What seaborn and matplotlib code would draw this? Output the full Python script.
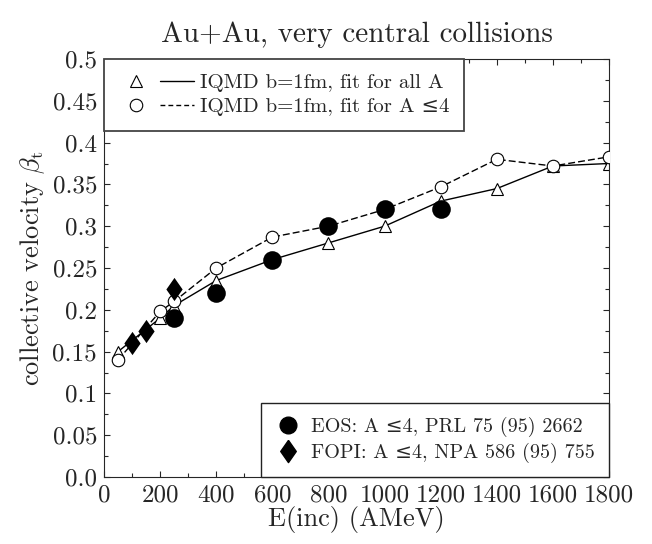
import matplotlib
matplotlib.use("Agg")
import matplotlib.pyplot as plt
import seaborn as sns
from matplotlib.lines import Line2D
from matplotlib.legend_handler import HandlerTuple
from matplotlib.ticker import MultipleLocator

# ---- data ----
iqmd_all_x = [50, 200, 250, 400, 600, 800, 1000, 1200, 1400, 1600, 1800]
iqmd_all_y = [0.15, 0.19, 0.205, 0.235, 0.26, 0.28, 0.30, 0.33, 0.345, 0.372, 0.375]
iqmd_a4_x = [50, 200, 250, 400, 600, 800, 1000, 1200, 1400, 1600, 1800]
iqmd_a4_y = [0.14, 0.198, 0.21, 0.25, 0.287, 0.30, 0.32, 0.347, 0.38, 0.372, 0.383]
eos_x = [250, 400, 600, 800, 1000, 1200]
eos_y = [0.19, 0.22, 0.26, 0.30, 0.32, 0.32]
fopi_x = [100, 150, 250]
fopi_y = [0.16, 0.175, 0.225]

xticks = [0, 200, 400, 600, 800, 1000, 1200, 1400, 1600, 1800]
xtick_labels = ["0", "200", "400", "600", "800", "1000", "1200", "1400", "1600", "1800"]
yticks = [0.0, 0.05, 0.1, 0.15, 0.2, 0.25, 0.3, 0.35, 0.4, 0.45, 0.5]
ytick_labels = ["0.0", "0.05", "0.1", "0.15", "0.2", "0.25", "0.3", "0.35", "0.4", "0.45", "0.5"]

label_all = "IQMD b=1fm, fit for all A"
label_a4 = "IQMD b=1fm, fit for A \u22644"
label_eos = "EOS: A \u22644, PRL 75 (95) 2662"
label_fopi = "FOPI: A \u22644, NPA 586 (95) 755"
title = "Au+Au, very central collisions"
xlabel = "E(inc) (AMeV)"
ylabel = r"collective velocity $\beta_\mathrm{t}$"

# ---- style ----
sns.set_style("ticks")
plt.rcParams.update({
    "font.family": ["cmr10", "DejaVu Serif"],
    "mathtext.fontset": "cm",
    "axes.formatter.use_mathtext": True,
    "axes.linewidth": 0.8,
    "xtick.direction": "in",
    "ytick.direction": "in",
    "xtick.top": True,
    "ytick.right": True,
    "axes.unicode_minus": False,
})

fig = plt.figure(figsize=(6.52, 5.44), dpi=100)
ax = fig.add_axes([104 / 652, 1 - 477 / 544, 505 / 652, 418 / 544])

sns.lineplot(x=iqmd_all_x, y=iqmd_all_y, ax=ax, color="black", lw=1.0,
             marker="^", markersize=9, markerfacecolor="white",
             markeredgecolor="black", markeredgewidth=0.8, zorder=2)
sns.lineplot(x=iqmd_a4_x, y=iqmd_a4_y, ax=ax, color="black", lw=1.0,
             linestyle=(0, (5, 2.2)),
             marker="o", markersize=9, markerfacecolor="white",
             markeredgecolor="black", markeredgewidth=0.8, zorder=3)

diamond = [(0, 1), (0.7, 0), (0, -1), (-0.7, 0), (0, 1)]
sns.scatterplot(x=eos_x, y=eos_y, ax=ax, marker="o", s=180, color="black",
                edgecolor="black", linewidth=0, zorder=5)
sns.scatterplot(x=fopi_x, y=fopi_y, ax=ax, marker=diamond, s=280, color="black",
                edgecolor="black", linewidth=0, zorder=5)

ax.set_xlim(0, 1800)
ax.set_ylim(0, 0.5)
ax.set_xticks(xticks, xtick_labels)
ax.set_yticks(yticks, ytick_labels)
ax.xaxis.set_minor_locator(MultipleLocator(100))
ax.yaxis.set_minor_locator(MultipleLocator(0.025))
ax.tick_params(which="major", length=4, width=0.8, labelsize=18, pad=5)
ax.tick_params(which="minor", length=3, width=0.8)

ax.set_xlabel(xlabel, fontsize=19, labelpad=0)
ax.set_ylabel(ylabel, fontsize=19, labelpad=4)
ax.set_title(title, fontsize=21, pad=12)

# legend 1 (upper left)
h_tri = Line2D([], [], linestyle="none", marker="^", markersize=9,
               markerfacecolor="white", markeredgecolor="black", markeredgewidth=0.8)
h_solid = Line2D([], [], color="black", lw=1.0)
h_circ = Line2D([], [], linestyle="none", marker="o", markersize=9,
                markerfacecolor="white", markeredgecolor="black", markeredgewidth=0.8)
h_dash = Line2D([], [], color="black", lw=1.0, linestyle=(0, (3.5, 2.2)))
leg1 = ax.legend([(h_tri, h_solid), (h_circ, h_dash)], [label_all, label_a4],
                 handler_map={tuple: HandlerTuple(ndivide=None, pad=0.35)},
                 loc="upper left", bbox_to_anchor=(0, 1), borderaxespad=0,
                 fontsize=15, handlelength=3.6, handletextpad=0.3,
                 labelspacing=0.25, borderpad=0.7, frameon=True, fancybox=False,
                 framealpha=1, edgecolor="#444444")
leg1.get_frame().set_linewidth(1.3)
ax.add_artist(leg1)

# legend 2 (lower right)
h_eos = Line2D([], [], linestyle="none", marker="o", markersize=12,
               markerfacecolor="black", markeredgecolor="black")
h_fopi = Line2D([], [], linestyle="none", marker=diamond, markersize=16,
                markerfacecolor="black", markeredgecolor="black")
leg2 = ax.legend([h_eos, h_fopi], [label_eos, label_fopi],
                 loc="lower right", bbox_to_anchor=(1, 0), borderaxespad=0,
                 fontsize=14.5, handlelength=1.3, handletextpad=0.5,
                 labelspacing=0.3, borderpad=0.7, frameon=True, fancybox=False,
                 framealpha=1, edgecolor="#222222")
leg2.get_frame().set_linewidth(1.0)

fig.savefig("out.png", dpi=100)
